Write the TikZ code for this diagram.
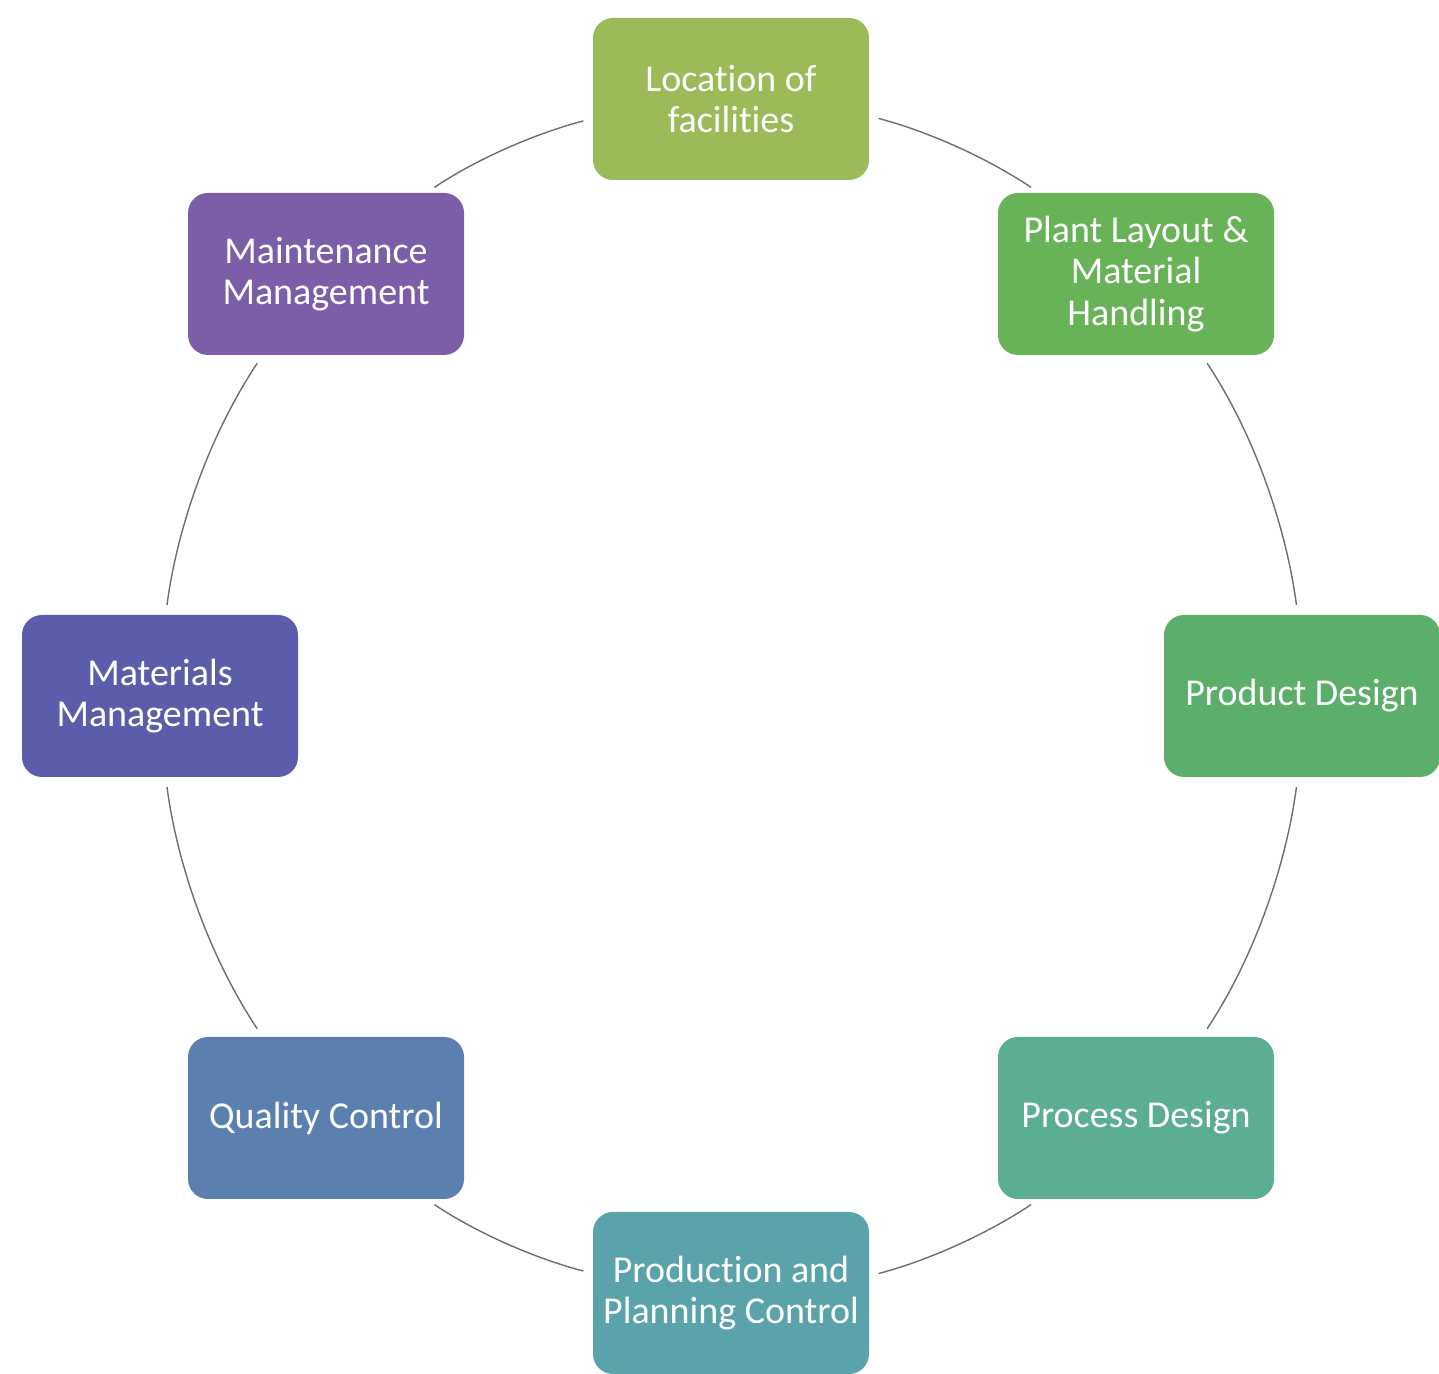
\documentclass[tikz,border=0pt]{standalone}
\usepackage{fontspec}
\setmainfont{Carlito}[Ligatures=NoCommon]
\definecolor{cLoc}{RGB}{155,187,89}
\definecolor{cPlant}{RGB}{104,178,88}
\definecolor{cProd}{RGB}{91,175,107}
\definecolor{cProc}{RGB}{91,174,143}
\definecolor{cPPC}{RGB}{91,163,171}
\definecolor{cQC}{RGB}{91,127,174}
\definecolor{cMat}{RGB}{91,93,170}
\definecolor{cMaint}{RGB}{124,94,168}
\definecolor{linkgray}{RGB}{110,110,110}
\begin{document}
\begin{tikzpicture}[x=0.5pt,y=0.5pt,
  stage/.style={rounded corners=10pt, minimum width=138pt, minimum height=81pt,
    inner sep=2pt, outer sep=0pt, text=white, align=center,
    font=\fontsize{19}{20.7}\selectfont},
  link/.style={draw=linkgray, line width=0.7pt, looseness=0.85,
    shorten <=5pt, shorten >=5pt}]
  % canvas
  \useasboundingbox (0,0) rectangle (1439,1374);
  \fill[white] (0,0) rectangle (1439,1374);

  % stages around the cycle
  \node[stage, fill=cLoc]   (loc)   at (731,1275) {Location of\\facilities};
  \node[stage, fill=cPlant] (plant) at (1136,1100) {Plant Layout \&\\Material\\Handling};
  \node[stage, fill=cProd]  (prod)  at (1302,678) {Product Design};
  \node[stage, fill=cProc]  (proc)  at (1136,256) {Process Design};
  \node[stage, fill=cPPC]   (ppc)   at (731,81)   {Production and\\Planning Control};
  \node[stage, fill=cQC]    (qc)    at (326,256)  {Quality Control};
  \node[stage, fill=cMat]   (mat)   at (160,678)  {Materials\\Management};
  \node[stage, fill=cMaint] (maint) at (326,1100) {Maintenance\\Management};

  % elliptical links between consecutive stages
  \draw[link] (loc.-7.4)     to[out=-14.7,  in=146.2]  (plant.140.25);
  \draw[link] (plant.-51.8)  to[out=-56.35, in=97.5]   (prod.93.7);
  \draw[link] (prod.-93.7)   to[out=-97.5,  in=56.35]  (proc.51.8);
  \draw[link] (proc.-140.25) to[out=-146.2, in=14.7]   (ppc.7.4);
  \draw[link] (ppc.172.6)    to[out=165.3,  in=-33.8]  (qc.-39.75);
  \draw[link] (qc.128.2)     to[out=123.65, in=-82.5]  (mat.-86.3);
  \draw[link] (mat.86.3)     to[out=82.5,   in=-123.65] (maint.-128.2);
  \draw[link] (maint.39.75)  to[out=33.8,   in=-165.3] (loc.-172.6);
\end{tikzpicture}
\end{document}
